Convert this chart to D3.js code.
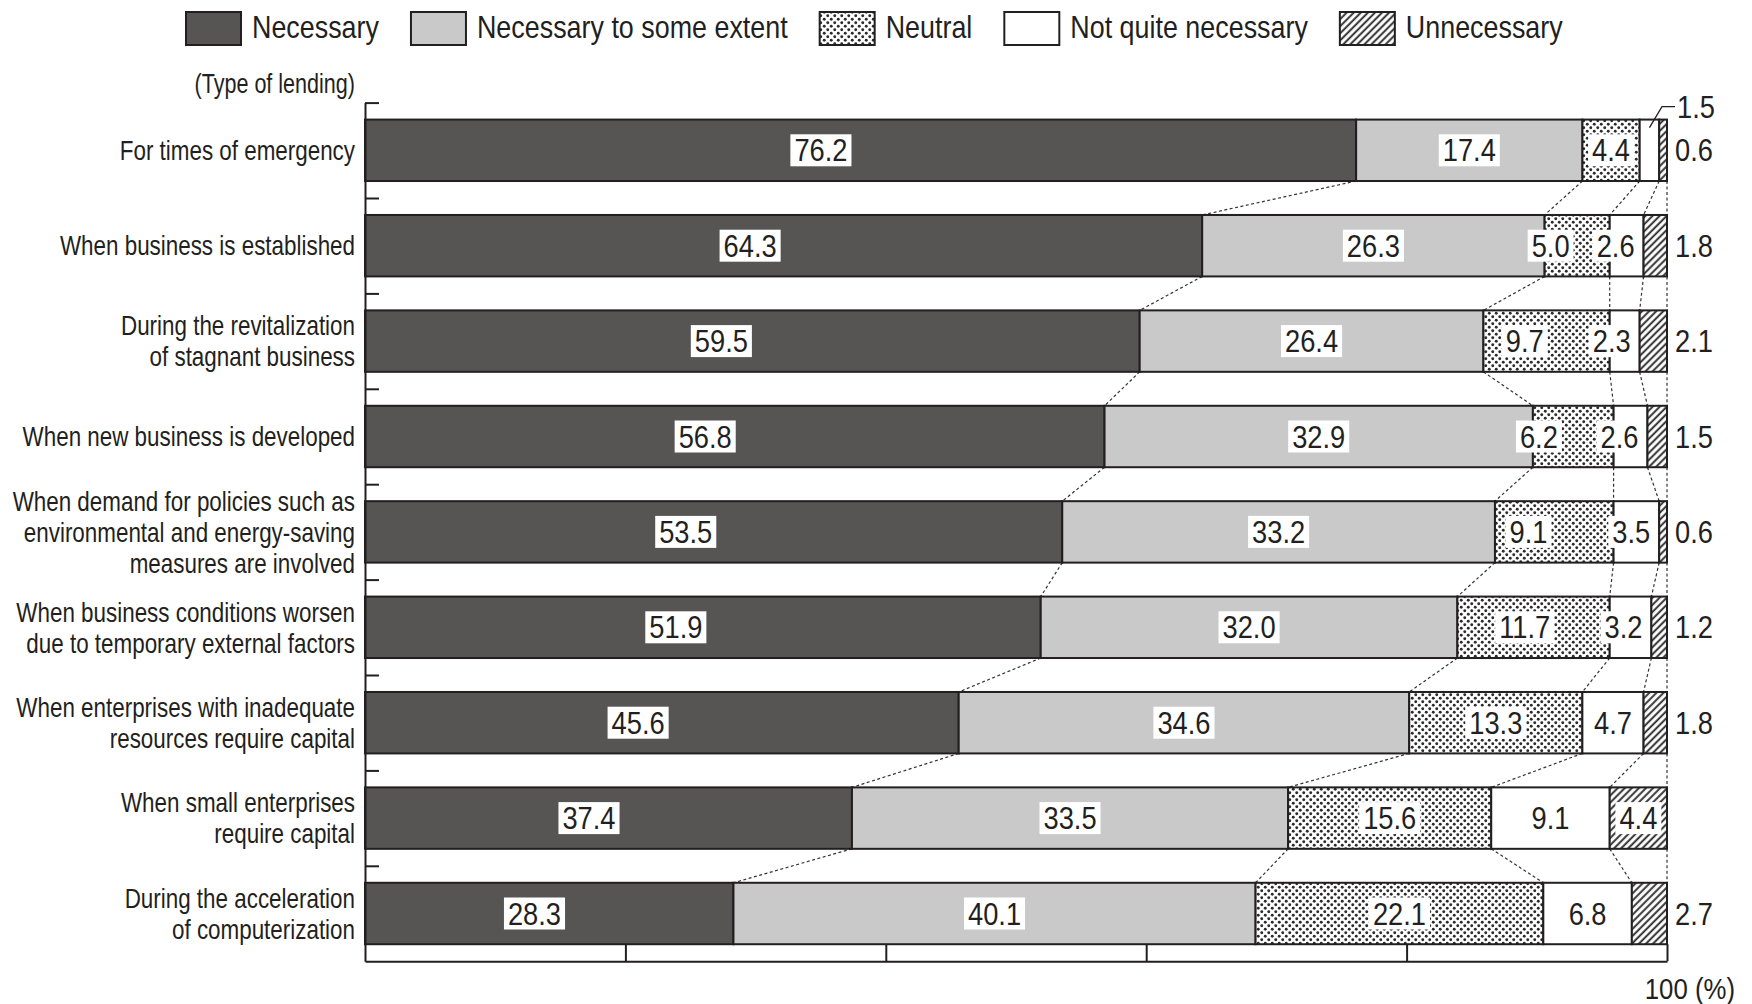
<!DOCTYPE html>
<html>
<head>
<meta charset="utf-8">
<script src="https://cdn.jsdelivr.net/npm/d3@7"></script>
<style>
  html, body { margin: 0; background: #fff; }
  svg { display: block; }
</style>
</head>
<body>
<svg id="chart" width="1752" height="1004"></svg>
<script>
// ---- data ----
const categories = [
  "For times of emergency",
  "When business is established",
  "During the revitalization\nof stagnant business",
  "When new business is developed",
  "When demand for policies such as\nenvironmental and energy-saving\nmeasures are involved",
  "When business conditions worsen\ndue to temporary external factors",
  "When enterprises with inadequate\nresources require capital",
  "When small enterprises\nrequire capital",
  "During the acceleration\nof computerization"
];
const seriesNames = ["Necessary", "Necessary to some extent", "Neutral", "Not quite necessary", "Unnecessary"];
const necessary   = [76.2, 64.3, 59.5, 56.8, 53.5, 51.9, 45.6, 37.4, 28.3];
const someExtent  = [17.4, 26.3, 26.4, 32.9, 33.2, 32.0, 34.6, 33.5, 40.1];
const neutral     = [4.4, 5.0, 9.7, 6.2, 9.1, 11.7, 13.3, 15.6, 22.1];
const notQuite    = [1.5, 2.6, 2.3, 2.6, 3.5, 3.2, 4.7, 9.1, 6.8];
const unnecessary = [0.6, 1.8, 2.1, 1.5, 0.6, 1.2, 1.8, 4.4, 2.7];
const xTicks = [0, 20, 40, 60, 80, 100];
const axisTitle = "(Type of lending)";
const unitLabel = "100 (%)";

// ---- setup ----
const svg = d3.select("#chart");
const INK = "#231f20";
const FONT = "'Liberation Sans', Arial, Helvetica, sans-serif";

const keys = ["necessary", "someExtent", "neutral", "notQuite", "unnecessary"];
const rows = categories.map((c, i) => ({
  i, category: c,
  necessary: necessary[i], someExtent: someExtent[i], neutral: neutral[i],
  notQuite: notQuite[i], unnecessary: unnecessary[i]
}));
const stacked = d3.stack().keys(keys).offset(d3.stackOffsetExpand)(rows);

const x = d3.scaleLinear().domain([0, 1]).range([365, 1667]);
const y = d3.scaleBand().domain(d3.range(rows.length))
  .range([102.6, 961.2]).paddingInner(0.356).paddingOuter(0.178);
const yEdge = d3.scaleLinear().domain([0, rows.length]).range(y.range());

// ---- fills ----
const defs = svg.append("defs");
const dots = defs.append("pattern").attr("id", "dots")
  .attr("patternUnits", "userSpaceOnUse").attr("width", 7).attr("height", 7);
dots.append("rect").attr("width", 7).attr("height", 7).attr("fill", "#fff");
dots.append("circle").attr("cx", 1.75).attr("cy", 1.75).attr("r", 1.45).attr("fill", "#2b2b2b");
dots.append("circle").attr("cx", 5.25).attr("cy", 5.25).attr("r", 1.45).attr("fill", "#2b2b2b");

const hatch = defs.append("pattern").attr("id", "hatch")
  .attr("patternUnits", "userSpaceOnUse").attr("width", 5).attr("height", 5)
  .attr("patternTransform", "rotate(45)");
hatch.append("rect").attr("width", 5).attr("height", 5).attr("fill", "#fff");
hatch.append("line").attr("x1", 1.2).attr("y1", 0).attr("x2", 1.2).attr("y2", 5)
  .attr("stroke", "#2b2b2b").attr("stroke-width", 1.9);

const fills = {
  necessary: "#575553",
  someExtent: "#c9c9c9",
  neutral: "url(#dots)",
  notQuite: "#ffffff",
  unnecessary: "url(#hatch)"
};

// condensed text helper: text squeezed horizontally around its anchor point
function condText(parent, tx, ty, str, size, sx, anchor) {
  const g = parent.append("g").attr("transform", `translate(${tx},${ty}) scale(${sx},1)`);
  const t = g.append("text").attr("x", 0).attr("y", 0)
    .attr("font-family", FONT).attr("font-size", size)
    .attr("fill", INK).attr("text-anchor", anchor || "start").text(str);
  return { g, t, width: t.node().getComputedTextLength() * sx };
}

// ---- legend ----
const legend = svg.append("g");
let lx = 186;
seriesNames.forEach((name, k) => {
  legend.append("rect").attr("x", lx).attr("y", 12).attr("width", 55).attr("height", 33)
    .attr("fill", fills[keys[k]]).attr("stroke", INK).attr("stroke-width", 2);
  const lt = condText(legend, lx + 66, 38, name, 32, 0.84, "start");
  lx = lx + 66 + lt.width + 32;
});

condText(svg, 355, 93, axisTitle, 28, 0.77, "end");

// ---- connector lines between bars ----
const conn = svg.append("g").attr("stroke", "#333").attr("stroke-width", 1.2)
  .attr("stroke-dasharray", "3,2.5").attr("fill", "none");
for (let i = 0; i < rows.length - 1; i++) {
  stacked.forEach(layer => {
    conn.append("line")
      .attr("x1", x(layer[i][1])).attr("y1", y(i) + y.bandwidth())
      .attr("x2", x(layer[i + 1][1])).attr("y2", y(i + 1));
  });
}

// ---- bars ----
const bars = svg.append("g");
stacked.forEach(layer => {
  bars.selectAll(null).data(layer).enter().append("rect")
    .attr("x", d => x(d[0]))
    .attr("y", (d, i) => y(i))
    .attr("width", d => x(d[1]) - x(d[0]))
    .attr("height", y.bandwidth())
    .attr("fill", fills[layer.key])
    .attr("stroke", INK).attr("stroke-width", 2);
});

// ---- axes ----
const yAxis = svg.append("g").attr("transform", `translate(${x(0)},0)`)
  .call(d3.axisRight(yEdge).tickValues(d3.range(rows.length)).tickSize(14)
    .tickSizeOuter(0).tickFormat(""));
const xAxis = svg.append("g").attr("transform", `translate(0,${yEdge(rows.length)})`)
  .call(d3.axisTop(x).tickValues(xTicks.map(v => v / 100))
    .tickSize(y.range()[1] - (y(rows.length - 1) + y.bandwidth()))
    .tickSizeOuter(0).tickFormat(""));
[yAxis, xAxis].forEach(a => {
  a.selectAll("path, line").attr("stroke", INK).attr("stroke-width", 2);
});
// the zero tick sits on the vertical axis
xAxis.selectAll(".tick").filter(d => d === 0).remove();

condText(svg, x(1) + 68, 999, unitLabel, 30, 0.86, "end");

// ---- category labels (one text element per category, one tspan per line) ----
const catG = svg.append("g");
const LINE_H = 31, CAT_SIZE = 27, CAT_SX = 0.83;
rows.forEach((r, i) => {
  const lines = r.category.split("\n");
  const cy = y(i) + y.bandwidth() / 2;
  const y0 = cy - (lines.length - 1) / 2 * LINE_H + CAT_SIZE * 0.36;
  const g = catG.append("g").attr("transform", `translate(355,${y0}) scale(${CAT_SX},1)`);
  const t = g.append("text").attr("font-family", FONT).attr("font-size", CAT_SIZE)
    .attr("fill", INK).attr("text-anchor", "end");
  lines.forEach((ln, j) => {
    t.append("tspan").attr("x", 0).attr("y", j * LINE_H).text(ln);
  });
});

// ---- value labels ----
const valG = svg.append("g");
const VSIZE = 31, VSX = 0.88;
function boxedLabel(cx, cy, str, anchor) {
  const grp = valG.append("g");
  const lab = condText(grp, cx, cy + 11, str, VSIZE, VSX, anchor);
  const left = anchor === "end" ? cx - lab.width : cx - lab.width / 2;
  grp.insert("rect", ":first-child")
    .attr("x", left - 4).attr("y", cy - 16)
    .attr("width", lab.width + 8).attr("height", 32).attr("fill", "#fff");
}

rows.forEach((r, i) => {
  const cy = y(i) + y.bandwidth() / 2;
  const top = y(i);
  stacked.forEach((layer, k) => {
    const d = layer[i];
    const v = r[layer.key];
    const str = v.toFixed(1);
    const x0 = x(d[0]), x1 = x(d[1]), xc = (x0 + x1) / 2;
    if (k === 0) {
      // leading segment label sits a little left of centre
      boxedLabel(x0 + (x1 - x0) * 0.46, cy, str, "middle");
    } else if (k === 1) {
      boxedLabel(xc, cy, str, "middle");
    } else if (k === 2) {
      const nq = r.notQuite;
      let px = xc;
      if (nq >= 2 && nq < 4) px = Math.max(x0 + 6, Math.min(xc, x1 - 85));
      boxedLabel(px, cy, str, "middle");
    } else if (k === 3) {
      if (v < 2) {
        valG.append("path")
          .attr("d", `M${xc},${top + 8}L${x(1) - 5},${top - 13}L${x(1) + 8},${top - 13}`)
          .attr("fill", "none").attr("stroke", INK).attr("stroke-width", 1.3);
        condText(valG, x(1) + 10, top - 13 + 11, str, VSIZE, VSX, "start");
      } else if (v < 4) {
        boxedLabel(x1 - 9, cy, str, "end");
      } else {
        boxedLabel(xc, cy, str, "middle");
      }
    } else {
      if (v >= 4) boxedLabel(xc, cy, str, "middle");
      else condText(valG, x(1) + 8, cy + 11, str, VSIZE, VSX, "start");
    }
  });
});
</script>
</body>
</html>
